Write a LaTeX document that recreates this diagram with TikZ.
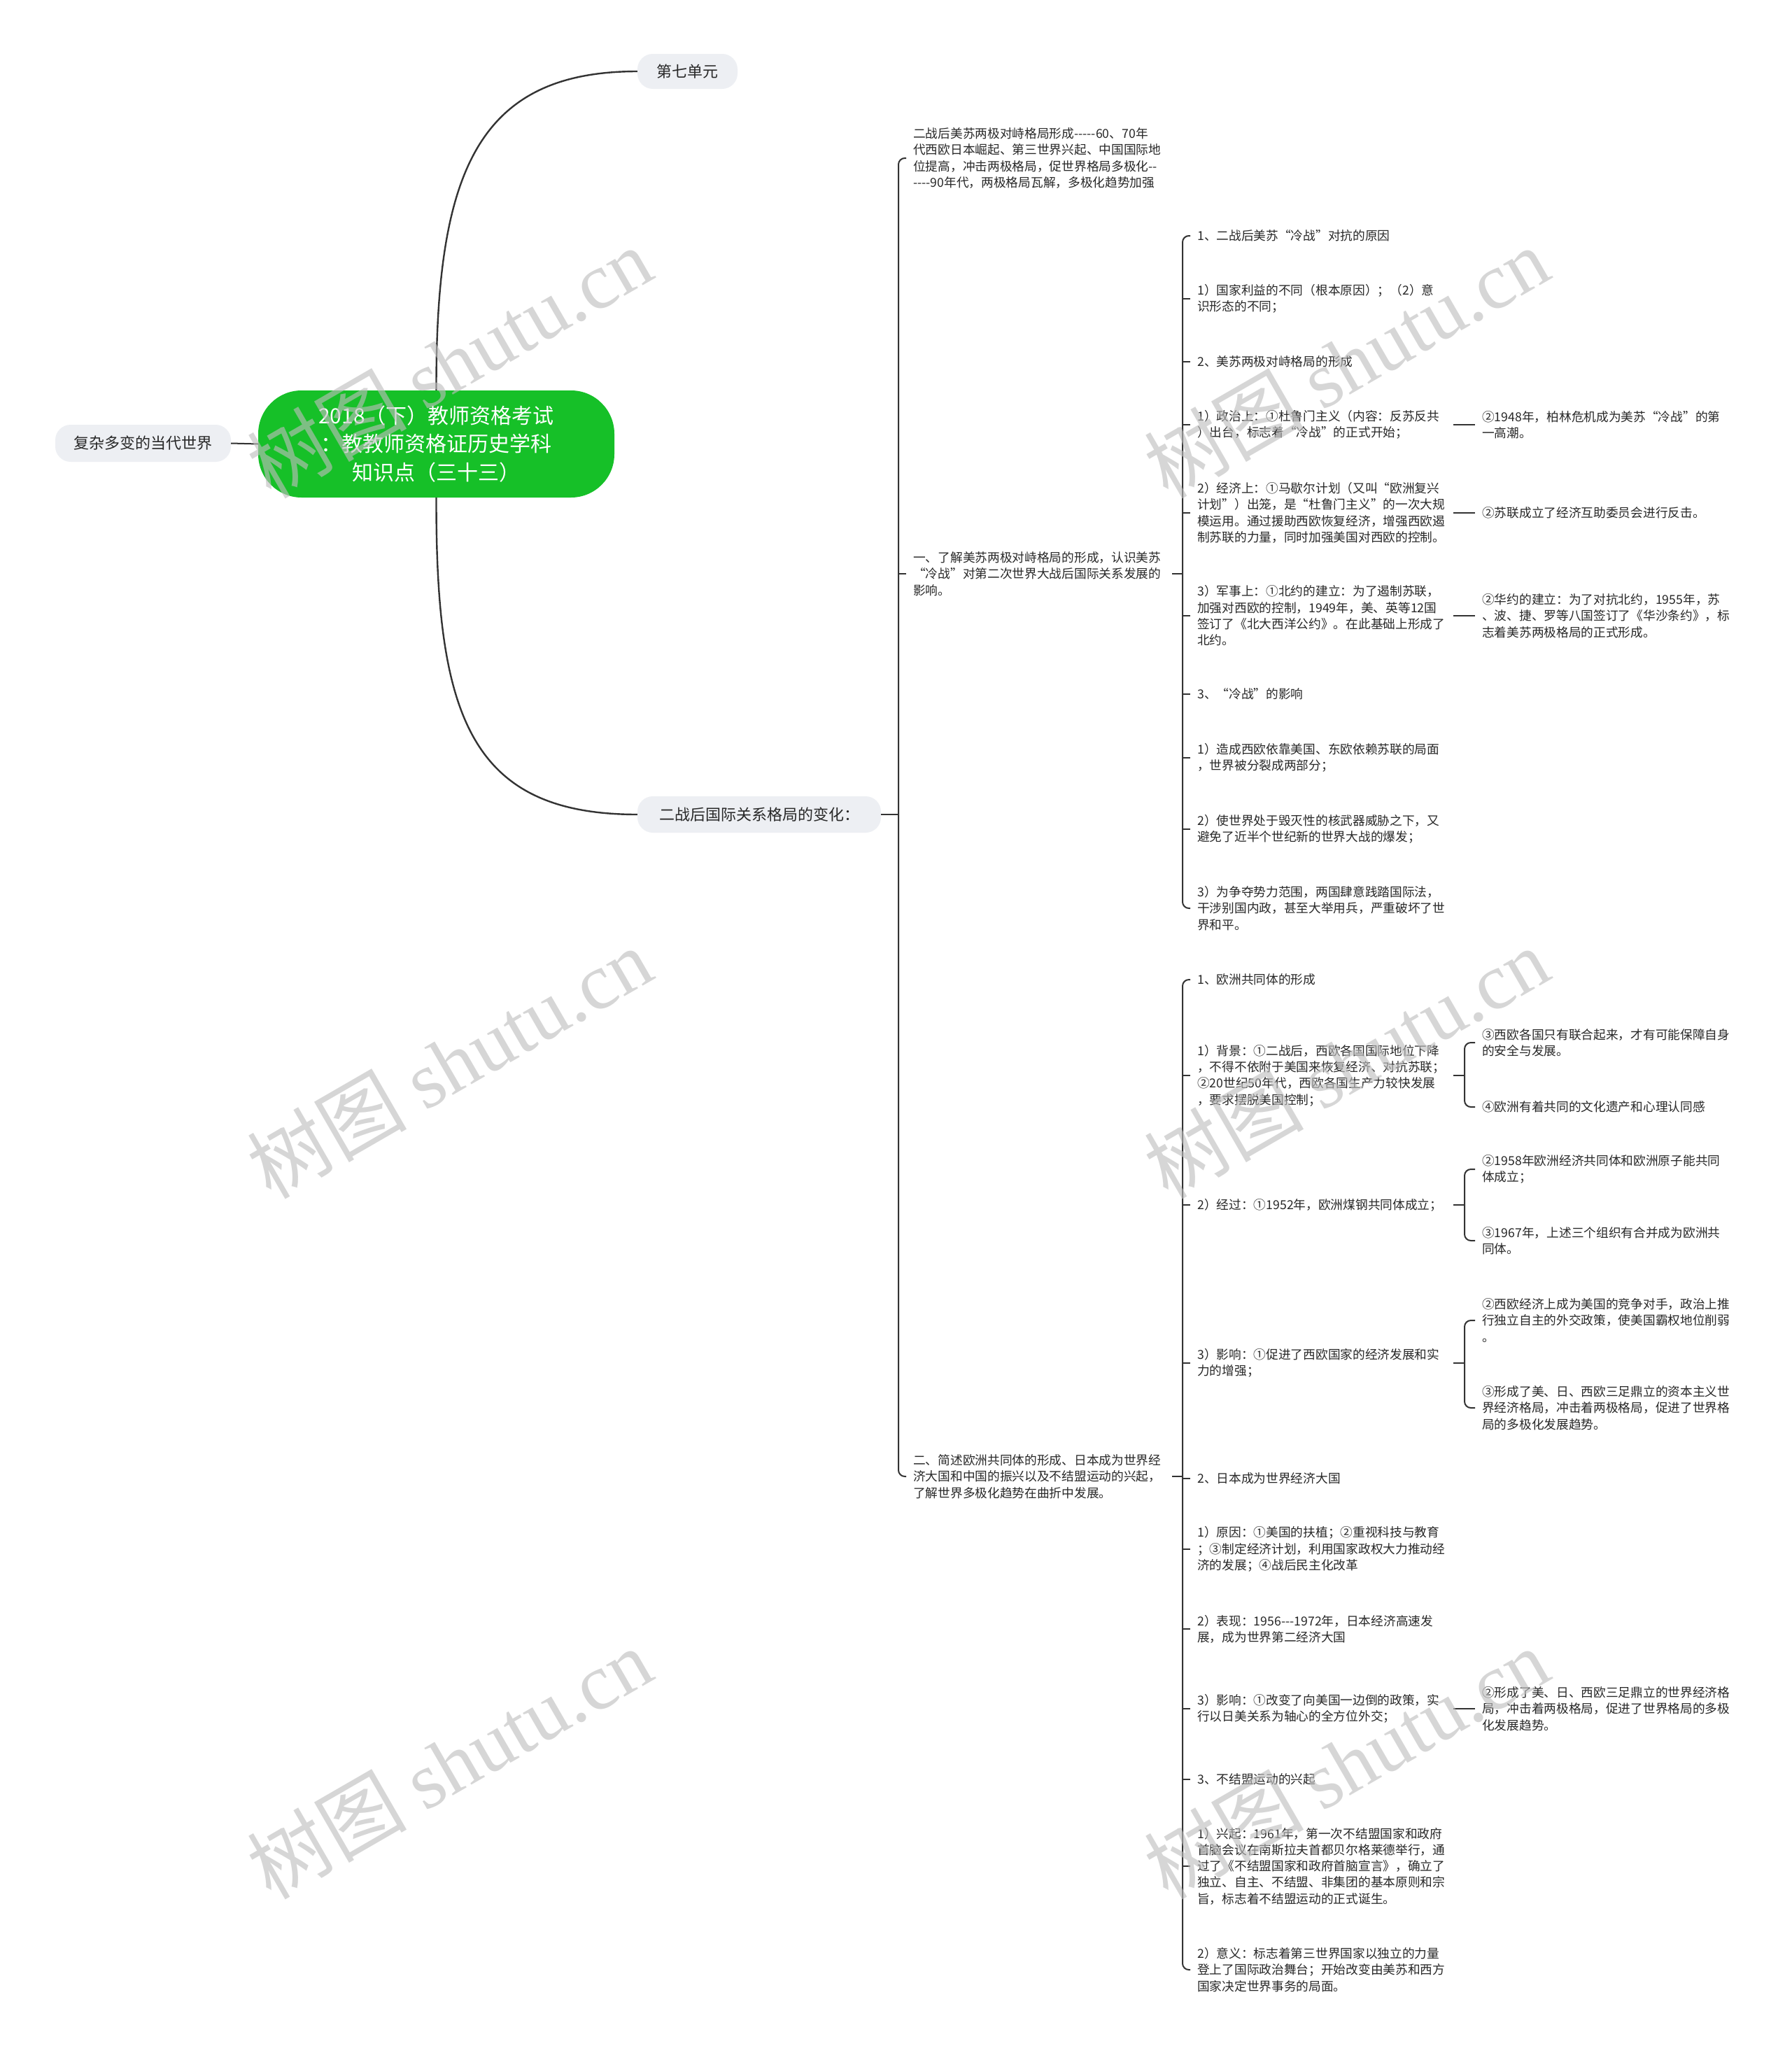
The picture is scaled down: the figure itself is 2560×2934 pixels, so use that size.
\documentclass[tikz,border=0pt]{standalone}
\usepackage{fontspec}
\setmainfont{Noto Sans CJK SC}[Ligatures=TeXOff]
\newfontfamily\wmlatin{Liberation Serif}
\definecolor{rootgreen}{RGB}{22,192,40}
\definecolor{topicgray}{RGB}{237,239,243}
\definecolor{txtc}{RGB}{40,40,40}
\definecolor{linec}{RGB}{51,51,51}
\definecolor{wmc}{RGB}{190,190,190}
\tikzset{
  rootnode/.style={fill=rootgreen, text=white, rounded corners=62pt, minimum width=509pt, minimum height=153pt, align=center, inner sep=0pt, font=\fontsize{30}{40.5}\selectfont},
  topicnode/.style={fill=topicgray, text=txtc, rounded corners=22pt, minimum height=52pt, inner sep=0pt, font=\fontsize{22}{26}\selectfont},
  leafnode/.style={text=txtc, anchor=west, align=left, text width=#1, inner xsep=10pt, inner ysep=2pt, font=\fontsize{17.7}{23.3}\selectfont},
  leafnode/.default=356pt,
  mainline/.style={draw=linec, line width=2.4pt},
  linkline/.style={draw=linec, line width=2pt},
  brline/.style={draw=linec, line width=2pt, rounded corners=9pt},
  wmark/.style={text=wmc, text opacity=0.62, rotate=30, inner sep=0pt, font=\fontsize{114}{114}\selectfont},
}
\begin{document}
\begin{tikzpicture}[x=1pt,y=-1pt]
\useasboundingbox (0,0) rectangle (2560,2934);
\fill[white] (0,0) rectangle (2560,2934);

% ---------- main topics ----------
\node[rootnode] (root) at (623.5,634.5) {2018（下）教师资格考试\\：教教师资格证历史学科\\知识点（三十三）};
\node[topicnode, minimum width=251pt, minimum height=53pt] (n0) at (204.5,633.5) {复杂多变的当代世界};
\node[topicnode, minimum width=143pt, minimum height=50pt] (n1) at (982.5,102) {第七单元};
\node[topicnode, minimum width=348pt] (n2) at (1085,1164) {二战后国际关系格局的变化：};

\draw[linkline] (n0.east) -- (root.west);
\draw[mainline] (root.north) .. controls (623,250) and (680,102) .. (n1.west);
\draw[mainline] (root.south) .. controls (623,1020) and (670,1164) .. (n2.west);

% ---------- column 2 ----------
\node[leafnode=360pt] (c2a) at (1295,226) {二战后美苏两极对峙格局形成-----60、70年\\代西欧日本崛起、第三世界兴起、中国国际地\\位提高，冲击两极格局，促世界格局多极化--\\----90年代，两极格局瓦解，多极化趋势加强};
\node[leafnode=360pt] (c2b) at (1295,820) {一、了解美苏两极对峙格局的形成，认识美苏\\“冷战”对第二次世界大战后国际关系发展的\\影响。};
\node[leafnode=360pt] (c2c) at (1295,2110) {二、简述欧洲共同体的形成、日本成为世界经\\济大国和中国的振兴以及不结盟运动的兴起，\\了解世界多极化趋势在曲折中发展。};

\coordinate (s2) at (1284,1164);
\draw[linkline] (n2.east) -- (s2);
\draw[brline] (c2a.west) -| (s2) |- (c2c.west);
\draw[linkline] (c2b.west -| s2) -- (c2b.west);

% ---------- column 3, group 1 ----------
\node[leafnode] (g1) at (1701,337) {1、二战后美苏“冷战”对抗的原因};
\node[leafnode] (g2) at (1701,427) {1）国家利益的不同（根本原因）；（2）意\\识形态的不同；};
\node[leafnode] (g3) at (1701,517) {2、美苏两极对峙格局的形成};
\node[leafnode] (g4) at (1701,607) {1）政治上：①杜鲁门主义（内容：反苏反共\\）出台，标志着“冷战”的正式开始；};
\node[leafnode] (g5) at (1701,733) {2）经济上：①马歇尔计划（又叫“欧洲复兴\\计划”）出笼，是“杜鲁门主义”的一次大规\\模运用。通过援助西欧恢复经济，增强西欧遏\\制苏联的力量，同时加强美国对西欧的控制。};
\node[leafnode] (g6) at (1701,880) {3）军事上：①北约的建立：为了遏制苏联，\\加强对西欧的控制，1949年，美、英等12国\\签订了《北大西洋公约》。在此基础上形成了\\北约。};
\node[leafnode] (g7) at (1701,992) {3、“冷战”的影响};
\node[leafnode] (g8) at (1701,1083) {1）造成西欧依靠美国、东欧依赖苏联的局面\\，世界被分裂成两部分；};
\node[leafnode] (g9) at (1701,1185) {2）使世界处于毁灭性的核武器威胁之下，又\\避免了近半个世纪新的世界大战的爆发；};
\node[leafnode] (g10) at (1701,1298) {3）为争夺势力范围，两国肆意践踏国际法，\\干涉别国内政，甚至大举用兵，严重破坏了世\\界和平。};

\coordinate (s3a) at (1690,820);
\draw[linkline] (c2b.east) -- (s3a);
\draw[brline] (g1.west) -| (s3a) |- (g10.west);
\foreach \n in {g2,g3,g4,g5,g6,g7,g8,g9}
  \draw[linkline] (\n.west -| s3a) -- (\n.west);

% column 4, group 1
\node[leafnode=360pt] (d1) at (2108,607) {②1948年，柏林危机成为美苏“冷战”的第\\一高潮。};
\node[leafnode=360pt] (d2) at (2108,733) {②苏联成立了经济互助委员会进行反击。};
\node[leafnode=360pt] (d3) at (2108,880) {②华约的建立：为了对抗北约，1955年，苏\\、波、捷、罗等八国签订了《华沙条约》，标\\志着美苏两极格局的正式形成。};
\draw[linkline] (g4.east) -- (d1.west);
\draw[linkline] (g5.east) -- (d2.west);
\draw[linkline] (g6.east) -- (d3.west);

% ---------- column 3, group 2 ----------
\node[leafnode] (h1) at (1701,1400) {1、欧洲共同体的形成};
\node[leafnode] (h2) at (1701,1537) {1）背景：①二战后，西欧各国国际地位下降\\，不得不依附于美国来恢复经济、对抗苏联；\\②20世纪50年代，西欧各国生产力较快发展\\，要求摆脱美国控制；};
\node[leafnode] (h3) at (1701,1722) {2）经过：①1952年，欧洲煤钢共同体成立；};
\node[leafnode] (h4) at (1701,1948) {3）影响：①促进了西欧国家的经济发展和实\\力的增强；};
\node[leafnode] (h5) at (1701,2113) {2、日本成为世界经济大国};
\node[leafnode] (h6) at (1701,2214) {1）原因：①美国的扶植；②重视科技与教育\\；③制定经济计划，利用国家政权大力推动经\\济的发展；④战后民主化改革};
\node[leafnode] (h7) at (1701,2328) {2）表现：1956---1972年，日本经济高速发\\展，成为世界第二经济大国};
\node[leafnode] (h8) at (1701,2442) {3）影响：①改变了向美国一边倒的政策，实\\行以日美关系为轴心的全方位外交；};
\node[leafnode] (h9) at (1701,2543) {3、不结盟运动的兴起};
\node[leafnode] (h10) at (1701,2667) {1）兴起：1961年，第一次不结盟国家和政府\\首脑会议在南斯拉夫首都贝尔格莱德举行，通\\过了《不结盟国家和政府首脑宣言》，确立了\\独立、自主、不结盟、非集团的基本原则和宗\\旨，标志着不结盟运动的正式诞生。};
\node[leafnode] (h11) at (1701,2815) {2）意义：标志着第三世界国家以独立的力量\\登上了国际政治舞台；开始改变由美苏和西方\\国家决定世界事务的局面。};

\coordinate (s3b) at (1690,2110);
\draw[linkline] (c2c.east) -- (s3b);
\draw[brline] (h1.west) -| (s3b) |- (h11.west);
\foreach \n in {h2,h3,h4,h5,h6,h7,h8,h9,h10}
  \draw[linkline] (\n.west -| s3b) -- (\n.west);

% column 4, group 2
\node[leafnode=360pt] (e1) at (2108,1490) {③西欧各国只有联合起来，才有可能保障自身\\的安全与发展。};
\node[leafnode=360pt] (e2) at (2108,1582) {④欧洲有着共同的文化遗产和心理认同感};
\node[leafnode=360pt] (e3) at (2108,1671) {②1958年欧洲经济共同体和欧洲原子能共同\\体成立；};
\node[leafnode=360pt] (e4) at (2108,1773) {③1967年，上述三个组织有合并成为欧洲共\\同体。};
\node[leafnode=360pt] (e5) at (2108,1887) {②西欧经济上成为美国的竞争对手，政治上推\\行独立自主的外交政策，使美国霸权地位削弱\\。};
\node[leafnode=360pt] (e6) at (2108,2012) {③形成了美、日、西欧三足鼎立的资本主义世\\界经济格局，冲击着两极格局，促进了世界格\\局的多极化发展趋势。};
\node[leafnode=360pt] (e7) at (2108,2442) {②形成了美、日、西欧三足鼎立的世界经济格\\局，冲击着两极格局，促进了世界格局的多极\\化发展趋势。};

\coordinate (k1) at (2093,1537);
\coordinate (k2) at (2093,1722);
\coordinate (k3) at (2093,1948);
\draw[linkline] (h2.east) -- (k1);
\draw[brline] (e1.west) -| (k1) |- (e2.west);
\draw[linkline] (h3.east) -- (k2);
\draw[brline] (e3.west) -| (k2) |- (e4.west);
\draw[linkline] (h4.east) -- (k3);
\draw[brline] (e5.west) -| (k3) |- (e6.west);
\draw[linkline] (h8.east) -- (e7.west);

% ---------- watermarks ----------
\foreach \p [count=\i] in {(642,518),(642,1519),(642,2520),(1924,518),(1924,1519),(1924,2520)}
  \node[wmark] (wm\i) at \p {树图 {\wmlatin shutu.cn}};
\end{tikzpicture}
\end{document}
